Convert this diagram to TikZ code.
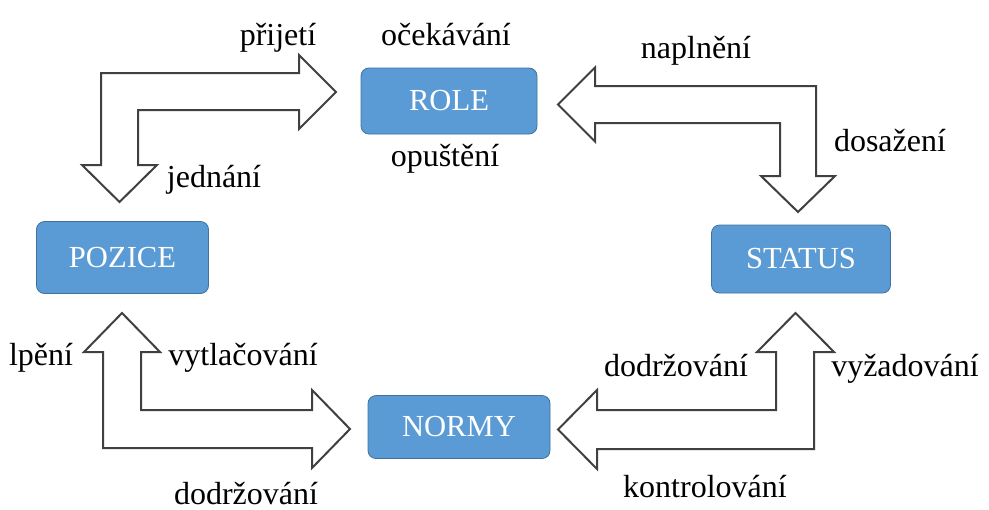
\documentclass[tikz,border=0pt]{standalone}
\usepackage{fontspec}
\setmainfont{Liberation Serif}
\definecolor{boxblue}{RGB}{91,155,213}
\definecolor{boxedge}{RGB}{65,113,156}
\definecolor{arrowgray}{RGB}{64,64,64}
\begin{document}
\begin{tikzpicture}[x=0.5pt,y=-0.5pt,
box/.style ={rectangle, draw=boxedge, fill=boxblue, text=white,
  rounded corners=4pt, inner sep=0pt,
  minimum width=88pt, minimum height=33pt,
  font=\fontsize{15.3}{18}\selectfont
},
lbl/.style ={anchor=base, inner sep=0pt,
  font=\fontsize{16}{19}\selectfont
},
barrow/.style ={draw=arrowgray, line width=1pt, fill=white, line join=miter}]
\useasboundingbox (0,0) rectangle (989,509);
% boxes
\node (role) at (449,101) [box] {ROLE};
\node (pozice) at (122.5,257.5) [box, minimum width=86pt, minimum height=36pt] {POZICE};
\node (status) at (801,259) [box, minimum width=89.5pt, minimum height=34pt] {STATUS};
\node (normy) at (459,427) [box, minimum width=91pt, minimum height=31.5pt] {NORMY};
% bent arrows
\draw[barrow] (101,73) -- (299,73) -- (299,55) -- (336,92) -- (299,129) -- (299,110)
  -- (138,110) -- (138,165) -- (157,165) -- (119.5,202) -- (82,165) -- (101,165) -- cycle;
\draw[barrow] (558,104.5) -- (595,67.5) -- (595,86) -- (816,86) -- (816,176) -- (835,176)
  -- (798,212) -- (761,176) -- (780,176) -- (780,123) -- (595,123) -- (595,141.5) -- cycle;
\draw[barrow] (122,313) -- (160,352) -- (141,352) -- (141,410) -- (312,410) -- (312,390)
  -- (350,429) -- (312,468) -- (312,448) -- (103,448) -- (103,352) -- (84,352) -- cycle;
\draw[barrow] (558,429.5) -- (597,390) -- (597,410) -- (776,410) -- (776,352) -- (757,352)
  -- (795.5,313) -- (834,352) -- (814,352) -- (814,449) -- (597,449) -- (597,469) -- cycle;
% labels
\node (prijeti) at (278,45) [lbl] {přijetí};
\node (ocekavani) at (446,45) [lbl] {očekávání};
\node (naplneni) at (696,58) [lbl] {naplnění};
\node (dosazeni) at (890,151) [lbl] {dosažení};
\node (opusteni) at (445,166) [lbl] {opuštění};
\node (jednani) at (214,187) [lbl] {jednání};
\node (lpeni) at (41,365) [lbl] {lpění};
\node (vytlacovani) at (243,365) [lbl] {vytlačování};
\node (dodrzR) at (676,376) [lbl] {dodržování};
\node (vyzadovani) at (905,376) [lbl] {vyžadování};
\node (kontrolovani) at (705,497) [lbl] {kontrolování};
\node (dodrzL) at (246,504) [lbl] {dodržování};
\end{tikzpicture}
\end{document}
